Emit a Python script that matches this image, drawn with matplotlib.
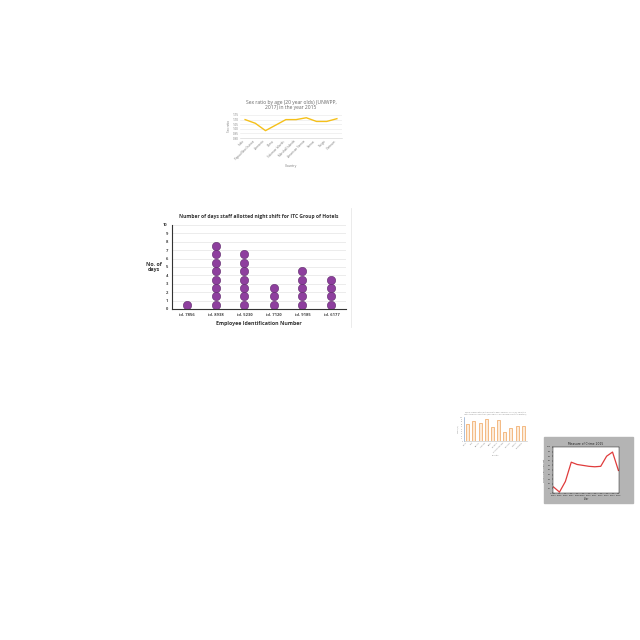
import matplotlib.pyplot as plt
import numpy as np

# chart 1: sex ratio line
countries = ['India', 'Papua New Guinea', 'Armenia', 'China', 'Solomon Islands',
             'Marshall Islands', 'American Samoa', 'Samoa', 'Tonga', 'Vietnam']
sex_ratio = [1.10, 1.06, 0.98, 1.04, 1.10, 1.10, 1.12, 1.08, 1.08, 1.11]
ratio_ticks = [0.90, 0.95, 1.00, 1.05, 1.10, 1.15]

# chart 2: dot plot of night shifts
employees = ['id. 7856', 'id. 8938', 'id. 5230', 'id. 7120', 'id. 9185', 'id. 6177']
night_days = [1, 8, 7, 3, 5, 4]

# chart 3: small bar chart
bar_cats = ['Chile', 'Peru', 'Bolivia', 'Uruguay', 'Brazil', 'Panama',
            'Dominican Rep.', 'Ecuador', 'Mexico', 'Colombia']
bar_vals = [70, 82, 75, 93, 59, 86, 38, 56, 62, 63]

# chart 4: red line on grey frame
years = ['2004', '2005', '2006', '2007', '2008', '2009', '2010', '2011',
         '2012', '2013', '2014', '2015']
crime = [13, 2, 25, 67, 62, 60, 58, 57, 58, 80, 89, 49]

W = 640.0


def box(left, top, right, bottom):
    return [left / W, 1 - bottom / W, (right - left) / W, (bottom - top) / W]


fig = plt.figure(figsize=(6.4, 6.4), dpi=100)
fig.patch.set_facecolor('white')
font = 'Open Sans'

# ---- chart 1
ax1 = fig.add_axes(box(240, 115, 342, 138))
ax1.plot(range(len(countries)), sex_ratio, color='#f5c01a', lw=1.0)
ax1.set_ylim(0.90, 1.15)
ax1.set_yticks(ratio_ticks)
ax1.set_yticklabels([f'{v:.2f}' for v in ratio_ticks], fontsize=2.2, color='#777777', family=font)
ax1.set_xlim(-0.5, len(countries) - 0.5)
ax1.set_xticks(range(len(countries)))
ax1.set_xticklabels(countries, rotation=45, ha='right', fontsize=2.2, color='#777777', family=font)
ax1.tick_params(length=0, pad=1)
ax1.grid(axis='y', color='#e6e6e6', lw=0.4)
ax1.set_axisbelow(True)
for s in ['top', 'right', 'left']:
    ax1.spines[s].set_visible(False)
ax1.spines['bottom'].set_color('#d0d0d0')
ax1.spines['bottom'].set_linewidth(0.4)
ax1.set_title('Sex ratio by age (20 year olds) (UNWPP,\n2017) in the year 2015',
              fontsize=3.6, color='#666666', family=font, pad=4)
ax1.set_ylabel('Sex ratio', fontsize=2.2, color='#777777', family=font, labelpad=1)
ax1.set_xlabel('Country', fontsize=2.4, color='#777777', family=font, labelpad=2)

# ---- chart 2
ax2 = fig.add_axes(box(172, 225, 346, 309))
for i, n in enumerate(night_days):
    ys = np.arange(n) + 0.5
    ax2.plot([i] * n, ys, 'o', ms=6, color='#8e3f9e', mec='#5e2a6a', mew=0.4)
ax2.set_xlim(-0.5, len(employees) - 0.5)
ax2.set_ylim(0, 10)
ax2.set_yticks(range(11))
ax2.set_yticklabels([str(v) for v in range(11)], fontsize=3, fontweight='bold',
                    color='#444444', family=font)
ax2.set_xticks(range(len(employees)))
ax2.set_xticklabels(employees, fontsize=3, fontweight='bold', color='#444444', family=font)
ax2.tick_params(axis='both', length=0, pad=3)
ax2.grid(axis='y', color='#dddddd', lw=0.4)
ax2.set_axisbelow(True)
ax2.spines['top'].set_visible(False)
ax2.spines['right'].set_visible(False)
ax2.spines['left'].set_color('#333333')
ax2.spines['bottom'].set_color('#333333')
ax2.spines['left'].set_linewidth(0.8)
ax2.spines['bottom'].set_linewidth(0.8)
ax2.set_title('Number of days staff allotted night shift for ITC Group of Hotels',
              fontsize=3.6, fontweight='bold', color='#333333', family=font, pad=5)
ax2.set_xlabel('Employee Identification Number', fontsize=3.8, fontweight='bold',
               color='#333333', family=font, labelpad=3)
ax2.set_ylabel('No. of\ndays', fontsize=3.8, fontweight='bold', color='#333333',
               family=font, rotation=0, labelpad=7, va='center')
fig.add_artist(plt.Line2D([351 / W, 351 / W], [1 - 208 / W, 1 - 327 / W],
                          color='#e8e8e8', lw=0.6))

# ---- chart 3
ax3 = fig.add_axes(box(464, 417, 527, 441))
ax3.bar(range(len(bar_cats)), bar_vals, width=0.5, color='#fdebd8',
        edgecolor='#f0a35a', lw=0.5)
ax3.set_ylim(0, 100)
ax3.set_xlim(-0.6, len(bar_cats) - 0.4)
ax3.set_yticks(range(0, 101, 10))
ax3.set_yticklabels([str(v) for v in range(0, 101, 10)], fontsize=1.2, color='#888888')
ax3.set_xticks(range(len(bar_cats)))
ax3.set_xticklabels(bar_cats, rotation=45, ha='right', fontsize=1.4, color='#888888')
ax3.tick_params(length=0, pad=0.5)
ax3.spines['top'].set_visible(False)
ax3.spines['right'].set_visible(False)
ax3.spines['left'].set_color('#6a8fc0')
ax3.spines['left'].set_linewidth(0.4)
ax3.spines['bottom'].set_color('#bbbbbb')
ax3.spines['bottom'].set_linewidth(0.4)
ax3.set_title('Share of population with access to basic services, 2015 (%), selected\n'
              'Latin American countries (World Bank, World Development Indicators)',
              fontsize=1.3, color='#888888', pad=2)
ax3.set_xlabel('Country', fontsize=1.4, color='#888888', labelpad=1)
ax3.set_ylabel('Share (%)', fontsize=1.2, color='#888888', labelpad=1)

# ---- chart 4
fig.add_artist(plt.Rectangle((544 / W, 1 - 503 / W), 89 / W, 66 / W,
                             color='#b4b4b4', zorder=0))
ax4 = fig.add_axes(box(553, 447, 619, 493))
ax4.plot(range(len(years)), crime, color='#e03c3c', lw=0.9)
ax4.set_xlim(-0.1, len(years) - 0.9)
ax4.set_ylim(0, 100)
ax4.set_xticks(range(len(years)))
ax4.set_xticklabels(years, fontsize=1.6, color='#333333')
ax4.set_yticks(range(0, 101, 10))
ax4.set_yticklabels([str(v) for v in range(0, 101, 10)], fontsize=1.6, color='#333333')
ax4.tick_params(length=1, width=0.3, pad=0.5)
for s in ax4.spines.values():
    s.set_linewidth(0.3)
ax4.set_title('Measure of Crime 2015', fontsize=2.2, color='#222222', pad=1.5)
ax4.set_xlabel('Year', fontsize=1.8, color='#333333', labelpad=1)
ax4.set_ylabel('Crime measurement', fontsize=1.6, color='#333333', labelpad=1)

fig.savefig('out.png', dpi=100)
